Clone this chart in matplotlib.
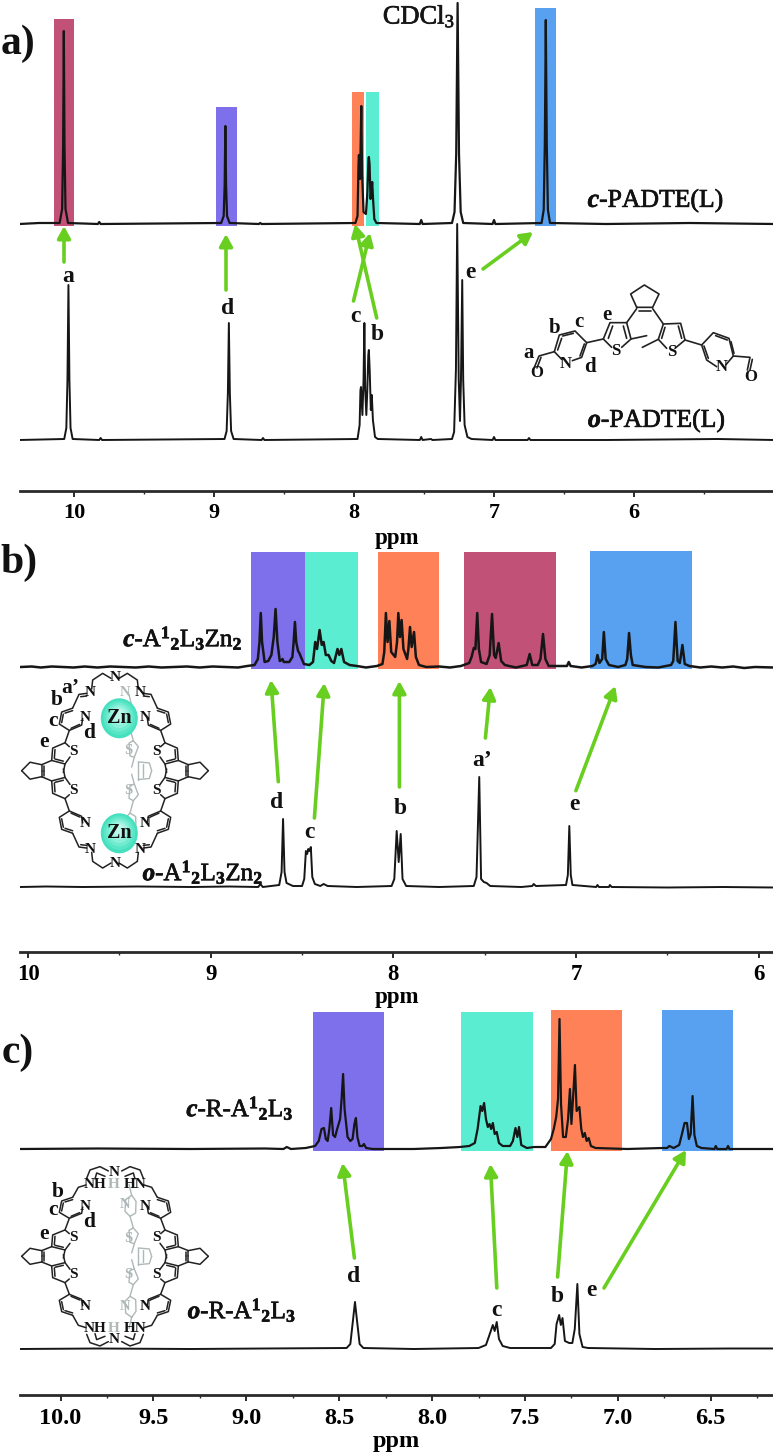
"""
NMR stack: a) PADTE(L), b) A12L3Zn2 cage, c) reduced cage.
Open (o-) and closed (c-) forms with coloured peak regions.
"""

import matplotlib
matplotlib.use('Agg')
import matplotlib.pyplot as plt
import matplotlib.patheffects as pe
from matplotlib.patches import Ellipse
from matplotlib.ticker import MultipleLocator, FuncFormatter

plt.rcParams['font.family'] = ['Liberation Serif', 'DejaVu Serif']
plt.rcParams['mathtext.fontset'] = 'custom'
plt.rcParams['mathtext.rm'] = 'Liberation Serif'
plt.rcParams['mathtext.it'] = 'Liberation Serif:italic:bold'
plt.rcParams['mathtext.bf'] = 'Liberation Serif:bold'

W, H = 773, 1455
INK = '#161616'
GREEN = '#68CF20'
GREY = '#AEB8B8'
RED, PURPLE, ORANGE, TEAL, BLUE = '#C25177', '#7E6FEB', '#FF8157', '#5AEDD2', '#58A1F0'

# --- panel a: ppm / intensity (px above each baseline) ---
a_c_ppm = [10.39, 10.25, 10.103, 10.085, 10.078, 10.073, 10.068, 10.061, 10.043, 9.83, 9.82, 9.81,
           8.949, 8.931, 8.924, 8.919, 8.914, 8.907, 8.889, 8.68, 8.67, 8.66,
           7.99, 7.975, 7.968, 7.965, 7.957, 7.948, 7.942, 7.932, 7.915, 7.905, 7.897, 7.894, 7.889,
           7.882, 7.875, 7.87, 7.864, 7.855, 7.84, 7.53, 7.52, 7.51,
           7.30, 7.282, 7.27, 7.26, 7.25, 7.238, 7.22, 7.01, 7.0, 6.99,
           6.66, 6.645, 6.637, 6.63, 6.623, 6.615, 6.60, 6.2, 5.6, 5.0]
a_c_int = [0, 1, 1, 15, 77, 193, 77, 15, 1, 0, 2, 0,
           1, 8, 39, 98, 39, 8, 1, 0, 1, 0,
           1, 8, 60, 69, 45, 118, 50, 12, 10, 30, 64, 67, 60,
           25, 34, 42, 25, 5, 1, 0, 4, 0,
           1, 12, 70, 221, 70, 12, 1, 0, 4, 0,
           1, 14, 80, 204, 80, 14, 1, 0, 1, 0]
a_o_ppm = [10.39, 10.07, 10.055, 10.047, 10.04, 10.033, 10.025, 10.01, 9.82, 9.81, 9.80,
           8.925, 8.91, 8.901, 8.894, 8.887, 8.878, 8.86, 8.66, 8.65, 8.64,
           7.975, 7.96, 7.954, 7.95, 7.94, 7.932, 7.926, 7.92, 7.912, 7.905, 7.898, 7.894, 7.888,
           7.88, 7.873, 7.865, 7.85, 7.83, 7.53, 7.52, 7.51, 7.45, 7.44,
           7.30, 7.285, 7.272, 7.263, 7.252, 7.243, 7.236, 7.227, 7.22, 7.21, 7.19, 7.16,
           7.01, 7.0, 6.99, 6.76, 6.75, 6.74, 6.2, 5.4, 5.0]
a_o_int = [0, 1, 12, 60, 155, 60, 12, 1, 0, 2, 0,
           1, 9, 47, 117, 47, 9, 1, 0, 2, 0,
           1, 15, 50, 53, 25, 60, 117, 50, 25, 50, 85, 90, 70,
           30, 45, 20, 3, 1, 0, 3, 0, 1, 0,
           1, 8, 70, 216, 60, 19, 60, 160, 60, 15, 3, 1,
           0, 3, 0, 0, 2, 0, 0, 1, 0]
a_left = [10.14, 8.989, 8.014, 7.916, 6.707]
a_right = [9.999, 8.834, 7.929, 7.824, 6.56]
a_top = [205, 117, 132, 132, 216]
a_colors = [RED, PURPLE, ORANGE, TEAL, BLUE]

# --- panel b ---
b_c_ppm = [10.04, 9.98, 9.93, 9.87, 9.81, 9.75, 9.69, 9.62, 9.55, 9.48, 9.41, 9.34, 9.27, 9.2, 9.13, 9.06,
           8.99, 8.92, 8.85, 8.80, 8.76, 8.742, 8.733, 8.726, 8.719, 8.705, 8.685, 8.668, 8.655, 8.645,
           8.635, 8.622, 8.612, 8.607, 8.6, 8.57, 8.553, 8.546, 8.539, 8.532, 8.522, 8.515, 8.49, 8.46,
           8.44, 8.428, 8.418, 8.404, 8.392, 8.382, 8.37, 8.355, 8.34, 8.325, 8.306, 8.296, 8.285, 8.27,
           8.24, 8.2, 8.15, 8.09, 8.06, 8.05, 8.041, 8.032, 8.022, 8.012, 7.99, 7.98, 7.973, 7.964, 7.955,
           7.945, 7.925, 7.918, 7.909, 7.9, 7.887, 7.877, 7.86, 7.82, 7.75, 7.69, 7.63, 7.585, 7.572, 7.56,
           7.551, 7.541, 7.532, 7.52, 7.49, 7.473, 7.46, 7.449, 7.44, 7.424, 7.41, 7.39, 7.33, 7.27, 7.254,
           7.24, 7.21, 7.195, 7.181, 7.168, 7.15, 7.05, 7.04, 7.03, 6.97, 6.91, 6.893, 6.883, 6.872, 6.857,
           6.848, 6.838, 6.82, 6.77, 6.73, 6.72, 6.71, 6.70, 6.69, 6.62, 6.55, 6.48, 6.468, 6.456, 6.444,
           6.432, 6.418, 6.405, 6.38, 6.32, 6.26, 6.2, 6.14, 6.08, 6.02, 5.92]
b_c_int = [0, 0.5, -0.5, 0.5, 0, -0.5, 0.5, -0.5, 0.5, 0, -0.5, 0.5, -0.5, 0, 0.5, -0.5,
           0.5, 0, -0.5, 1, 2, 8, 25, 54, 25, 5, 6, 12, 30, 58,
           25, 6, 7, 8, 5, 5, 10, 25, 45, 25, 16, 14, 3, 2,
           5, 25, 18, 37, 22, 25, 12, 12, 6, 4, 18, 12, 18, 5,
           2, 1, -0.5, 1, 3, 15, 54, 25, 46, 15, 10, 25, 54, 30, 47,
           18, 8, 18, 40, 20, 35, 10, 2, 0, 0.5, -0.5, 1, 4, 10, 19,
           18, 54, 18, 5, 3, 12, 53, 12, 9, 24, 6, 2, -0.5, 2, 13,
           2, 2, 8, 33, 8, 1, 1, 5, 1, -0.5, 1, 3, 12, 4, 8,
           35, 8, 2, 0, 2, 8, 34, 12, 2, 0, -0.5, 2, 6, 45, 6,
           4, 22, 3, 1, -0.5, 0.5, -0.5, 0.5, -1, 0, -0.5]
b_o_ppm = [10.04, 9.9, 9.7, 9.4, 9.1, 8.9, 8.74, 8.728, 8.715, 8.625, 8.612, 8.604, 8.596, 8.585, 8.55,
           8.50, 8.488, 8.479, 8.472, 8.466, 8.459, 8.452, 8.444, 8.43, 8.4, 8.382, 8.36, 8.2, 8.01, 7.995,
           7.982, 7.971, 7.96, 7.95, 7.93, 7.75, 7.56, 7.545, 7.53, 7.52, 7.505, 7.49, 7.47, 7.3, 7.24, 7.232,
           7.22, 7.055, 7.045, 7.037, 7.029, 7.02, 6.89, 6.883, 6.875, 6.82, 6.815, 6.805, 6.5, 6.2, 5.92]
b_o_int = [0, 0.5, 0, 0.5, 0, 0.5, 0, 3, 0, 2, 15, 68, 15, 4, 1,
           1, 8, 36, 33, 38, 36, 40, 10, 3, 1, 3, 1, 0, 1, 8,
           56, 25, 53, 8, 1, 0, 1, 10, 110, 8, 5, 4, 1, 0, 1, 3,
           1, 2, 12, 61, 12, 2, 0, 2, 0, 0, 2, 0, -0.5, 0, -0.5]
b_left = [8.777, 8.485, 8.087, 7.614, 6.924]
b_right = [8.485, 8.195, 7.752, 7.110, 6.364]
b_top = [115, 115, 115, 115, 116]
b_colors = [PURPLE, TEAL, ORANGE, RED, BLUE]

# --- panel c ---
c_c_ppm = [10.22, 9.8, 9.3, 8.9, 8.80, 8.782, 8.76, 8.68, 8.63, 8.61, 8.595, 8.582, 8.572, 8.562, 8.553,
           8.543, 8.533, 8.522, 8.511, 8.495, 8.487, 8.479, 8.471, 8.455, 8.44, 8.428, 8.418, 8.41, 8.402,
           8.39, 8.375, 8.367, 8.355, 8.32, 8.1, 7.95, 7.85, 7.8, 7.77, 7.755, 7.739, 7.73, 7.72, 7.71, 7.70,
           7.691, 7.682, 7.673, 7.663, 7.652, 7.64, 7.62, 7.58, 7.565, 7.551, 7.541, 7.532, 7.52, 7.49, 7.45,
           7.39, 7.36, 7.345, 7.332, 7.322, 7.314, 7.306, 7.295, 7.28, 7.268, 7.258, 7.25, 7.24, 7.231, 7.222,
           7.207, 7.197, 7.188, 7.178, 7.168, 7.157, 7.145, 7.12, 6.95, 6.76, 6.735, 6.723, 6.70, 6.67, 6.655,
           6.641, 6.628, 6.618, 6.608, 6.598, 6.588, 6.575, 6.55, 6.48, 6.473, 6.465, 6.415, 6.407, 6.4, 6.3, 6.165]
c_c_int = [0, 0.5, 0, 0.5, 0, 2, 0, 1, 3, 8, 20, 21, 10, 8, 20,
           41, 14, 12, 20, 30, 50, 75, 40, 12, 8, 10, 25, 31, 12,
           3, 3, 5, 1, 0, 0, 1, 2, 3, 6, 20, 43, 38, 46, 30, 22,
           25, 20, 26, 15, 17, 6, 3, 3, 8, 21, 12, 22, 4, 1, 2,
           2, 10, 20, 32, 50, 130, 45, 12, 12, 30, 60, 25, 55, 84, 38,
           42, 20, 12, 16, 8, 11, 3, 1, 0, 1, 1, 3, 1, 4, 15,
           26, 26, 10, 15, 53, 14, 3, 1, 0, 3, 0, 0, 3, 0, 0, 0]
c_o_ppm = [10.22, 9.8, 9.3, 8.9, 8.46, 8.44, 8.425, 8.415, 8.405, 8.39, 8.37, 8.1, 7.75, 7.71, 7.695,
           7.673, 7.663, 7.652, 7.64, 7.62, 7.58, 7.5, 7.36, 7.34, 7.33, 7.316, 7.307, 7.298, 7.285, 7.262,
           7.245, 7.232, 7.218, 7.207, 7.19, 7.16, 6.8, 6.4, 6.165]
c_o_int = [0, 0.5, 0, 0.5, 1, 5, 30, 47, 30, 5, 1, 0, 1, 4, 12,
           24, 18, 27, 10, 3, 1, 1, 1, 5, 25, 34, 24, 31, 8, 6,
           6, 20, 65, 15, 2, 1, 0, 0.5, 0.5]
c_left = [8.641, 7.843, 7.362, 6.761]
c_right = [8.258, 7.457, 6.979, 6.380]
c_top = [137, 137, 139, 139]
c_colors = [PURPLE, TEAL, ORANGE, BLUE]

fig = plt.figure(figsize=(W / 100, H / 100), dpi=100)


def panel(top, bottom, xlim, major, minor, fmt, tick_size, ppm_size, ppm_pad):
    ax = fig.add_axes([20 / W, 1 - bottom / H, 753 / W, (bottom - top) / H])
    ax.set_xlim(*xlim)
    ax.set_ylim(0, bottom - top)
    ax.patch.set_visible(False)
    for s in ['left', 'right', 'top']:
        ax.spines[s].set_visible(False)
    ax.spines['bottom'].set_linewidth(2)
    ax.spines['bottom'].set_color('#2a2a2a')
    ax.set_yticks([])
    ax.xaxis.set_major_locator(MultipleLocator(major))
    ax.xaxis.set_minor_locator(MultipleLocator(minor))
    ax.xaxis.set_major_formatter(FuncFormatter(lambda v, p: format(v, fmt)))
    ax.tick_params(axis='x', which='major', length=4, width=1.4, pad=5, labelsize=tick_size, color='#2a2a2a')
    ax.tick_params(axis='x', which='minor', length=2.5, width=1.0, color='#2a2a2a')
    for t in ax.get_xticklabels():
        t.set_fontweight('bold')
    ax.set_xlabel('ppm', fontsize=ppm_size, fontweight='bold', labelpad=ppm_pad)
    return ax


def regions(ax, base, left, right, top, colors):
    for l, r, t, c in zip(left, right, top, colors):
        ax.bar(l, t + 2, width=r - l, bottom=base - 2, align='edge', color=c, linewidth=0, zorder=1)


ax_a = panel(0, 491, (10.386, 5.007), 1, 0.5, '.0f', 16, 16.5, 3)
regions(ax_a, 267, a_left, a_right, a_top, a_colors)
ax_a.plot(a_c_ppm, [267 + v for v in a_c_int], color=INK, lw=1.6, zorder=3)
ax_a.plot(a_o_ppm, [51 + v for v in a_o_int], color=INK, lw=1.4, zorder=3)

ax_b = panel(540, 952, (10.044, 5.922), 1, 0.5, '.0f', 16.5, 16.5, 1)
regions(ax_b, 285, b_left, b_right, b_top, b_colors)
ax_b.plot(b_c_ppm, [285 + v for v in b_c_int], color=INK, lw=1.8, zorder=3)
ax_b.plot(b_o_ppm, [65 + v for v in b_o_int], color=INK, lw=1.4, zorder=3)

ax_c = panel(1000, 1395, (10.218, 6.165), 0.5, 0.25, '.1f', 17.5, 17.5, 2)
regions(ax_c, 246, c_left, c_right, c_top, c_colors)
ax_c.plot(c_c_ppm, [246 + v for v in c_c_int], color=INK, lw=1.6, zorder=3)
ax_c.plot(c_o_ppm, [46 + v for v in c_o_int], color=INK, lw=1.4, zorder=3)

# overlay in picture pixels, for labels, arrows and the drawn structures
ov = fig.add_axes([0, 0, 1, 1], zorder=5)
ov.set_xlim(0, W)
ov.set_ylim(H, 0)
ov.axis('off')


def label(x, y, s, size=17, weight='bold', color='#111111', ha='center', zorder=8):
    t = ov.text(x, y, s, fontsize=size, fontweight=weight, color=color, ha=ha, va='center', zorder=zorder)
    if weight == 'normal':
        # the original type is heavier than plain Liberation Serif
        t.set_path_effects([pe.withStroke(linewidth=0.5, foreground=color)])


def arrow(x0, y0, x1, y1):
    ov.annotate('', xy=(x1, y1), xytext=(x0, y0),
                arrowprops=dict(arrowstyle='-|>,head_length=0.55,head_width=0.3', color=GREEN, lw=2.6,
                                shrinkA=0, shrinkB=0, mutation_scale=13))


# panel letters
label(18, 44, 'a)', 30)
label(19, 563, 'b)', 30)
label(18, 1053, 'c)', 30)

# panel a texts and arrows
label(419, 17, 'CDCl$_{3}$', 19, 'normal', '#151515')
label(656, 201, r'$\mathit{c}$-PADTE(L)', 18.5, 'normal', ha='center')
label(657, 421, r'$\mathit{o}$-PADTE(L)', 18.5, 'normal', ha='center')
for x, y, s in [(68, 276, 'a'), (228, 308, 'd'), (355, 316, 'c'), (377, 335, 'b'), (470, 273, 'e')]:
    label(x, y, s)
arrow(64, 262, 64, 226)
arrow(226, 290, 226, 234)
arrow(353.5, 301, 370, 233)
arrow(376.7, 318, 355, 224)
arrow(483, 269, 533, 232)

# panel b texts and arrows
label(183, 638, r'$\mathit{c}$-A$^{\mathbf{1}}{}_{\mathbf{2}}$L$_{\mathbf{3}}$Zn$_{\mathbf{2}}$', 18, 'normal')
label(203, 872, r'$\mathit{o}$-A$^{\mathbf{1}}{}_{\mathbf{2}}$L$_{\mathbf{3}}$Zn$_{\mathbf{2}}$', 18, 'normal')
for x, y, s in [(277, 803, 'd'), (309, 832, 'c'), (400, 808, 'b'), (482, 760, 'a\u2019'), (574, 805, 'e')]:
    label(x, y, s)
arrow(278.3, 781.7, 271, 680)
arrow(314.4, 818, 324.3, 683)
arrow(399.4, 787, 399.4, 681)
arrow(485.4, 738, 490.4, 687)
arrow(575.9, 790.7, 615.4, 686)

# panel c texts and arrows
label(240, 1108, r'$\mathit{c}$-R-A$^{\mathbf{1}}{}_{\mathbf{2}}$L$_{\mathbf{3}}$', 18, 'normal')
label(242, 1310, r'$\mathit{o}$-R-A$^{\mathbf{1}}{}_{\mathbf{2}}$L$_{\mathbf{3}}$', 18, 'normal')
for x, y, s in [(354, 1277, 'd'), (496, 1310, 'c'), (557, 1297, 'b'), (591, 1290, 'e')]:
    label(x, y, s)
arrow(354.4, 1258, 342.6, 1163)
arrow(496.8, 1288, 490.4, 1164)
arrow(557.6, 1277, 567.5, 1151)
arrow(604, 1288, 686, 1150)


# --- structures, coordinates in 3x crop units ---
def bonds(chains, x0, y0, color='#222222', lw=1.1, mx=1, my=1, sy=1.0, zorder=6):
    for chain in chains:
        ov.plot([x0 + mx * p[0] / 3 for p in chain], [y0 + my * sy * p[1] / 3 for p in chain],
                color=color, lw=lw, solid_capstyle='round', zorder=zorder)


ligand = [
    [(365, 112), (347, 72), (388, 45), (432, 72), (413, 112), (365, 112)],
    [(372, 123), (408, 123)],
    [(365, 116), (335, 158)], [(413, 116), (445, 162)],
    [(290, 232), (265, 207), (285, 158), (335, 158), (348, 207), (320, 232)],
    [(280, 205), (293, 168)], [(325, 168), (335, 205)], [(348, 207), (395, 197)],
    [(265, 207), (215, 218)],
    [(172, 272), (200, 262), (215, 218), (180, 183), (133, 195), (118, 245), (140, 268)],
    [(140, 205), (128, 240)], [(143, 198), (175, 190)], [(208, 222), (195, 258)],
    [(118, 245), (72, 258), (58, 292)], [(78, 262), (66, 294)],
    [(455, 235), (430, 208), (445, 162), (497, 160), (510, 210), (480, 235)],
    [(450, 172), (440, 205)], [(490, 168), (500, 205)], [(430, 208), (382, 232)],
    [(510, 210), (560, 225)],
    [(605, 290), (575, 270), (560, 225), (595, 188), (642, 205), (655, 258), (632, 285)],
    [(602, 197), (637, 210)], [(648, 215), (657, 250)], [(567, 228), (580, 265)],
    [(655, 258), (705, 262), (697, 300)], [(712, 268), (705, 300)],
]
bonds(ligand, 515, 270, lw=1.2)
for x, y, s in [(42, 250, 'a'), (118, 175, 'b'), (192, 155, 'c'), (225, 290, 'd'), (277, 135, 'e')]:
    label(515 + x / 3, 270 + y / 3, s, 15)
for x, y, s in [(152, 283, 'N'), (65, 310, 'O'), (303, 243, 'S'), (470, 247, 'S'), (620, 290, 'N'), (707, 320, 'O')]:
    label(515 + x / 3, 270 + y / 3, s, 12)

arm = [
    [(-127, -177), (-160, -166), (-167, -132), (-137, -114), (-100, -129), (-97, -148)],
    [(-155, -160), (-160, -136)], [(-132, -120), (-106, -131)], [(-127, -170), (-150, -163)],
    [(-137, -114), (-150, -79)],
    [(-137, -68), (-150, -79), (-187, -64), (-190, -29), (-150, -19), (-135, -39)],
    [(-180, -60), (-182, -35)], [(-155, -27), (-180, -33)], [(-150, -19), (-155, 5)],
    [(-190, -29), (-220, -17)], [(-220, -17), (-255, -24), (-280, 0)],
    [(-220, -17), (-220, 0)], [(-212, -14), (-212, 0)],
]
back = [
    [(55, -85), (42, -78), (45, -42), (58, -38), (70, -68), (55, -85)],
    [(45, -120), (55, -85)], [(58, -38), (50, -10)],
    [(50, -183), (32, -170), (30, -135), (45, -120), (62, -130), (63, -165), (50, -183)],
    [(50, -183), (42, -216)],
    [(70, -25), (103, -22), (110, 0)], [(70, -25), (70, 0)], [(84, -18), (84, 0)],
]
cap_zn = [
    [(-127, -188), (-108, -229), (-85, -232)], [(-103, -222), (-85, -224)],
    [(-70, -245), (-67, -272), (-37, -292), (-12, -277)],
]
cap_nh = [
    [(-127, -177), (-110, -207), (-87, -214)],
    [(-85, -234), (-75, -259), (-45, -269), (-20, -256)],
    [(-60, -232), (-55, -250), (-30, -240)],
]


def cage(cx, cy, sy, cap):
    for my in (1, -1):
        bonds(back, cx, cy, GREY, 1.0, 1, my, sy, zorder=5)
        for mx in (1, -1):
            bonds(arm, cx, cy, mx=mx, my=my, sy=sy)
            bonds(cap, cx, cy, mx=mx, my=my)
            label(cx + mx * 90 / 3, cy + my * sy * 150 / 3, 'N', 11)
            label(cx + mx * 125 / 3, cy + my * sy * 55 / 3, 'S', 11)


# panel b cage
cage(115, 770.7, 1.06, cap_zn)
for my in (1, -1):
    label(115, 770.7 + my * 279 / 3, 'N', 11)
    for mx in (1, -1):
        label(115 + mx * 75 / 3, 770.7 + my * 235 / 3, 'N', 11)
label(125, 692, 'N', 10.5, color=GREY, zorder=6)
label(128, 751, 'S', 10.5, color=GREY, zorder=6)
label(128, 791, 'S', 10.5, color=GREY, zorder=6)
for yc in (718.3, 833.3):
    for i, shade in enumerate(['#45E0BD', '#58E6C6', '#70EBCF', '#8AF0D9', '#A5F4E3', '#BDF8EB']):
        f = 1 - i * 0.14
        ov.add_patch(Ellipse((119.3, yc - i * 0.6), 37 * f, 40 * f, facecolor=shade, edgecolor='none', zorder=7))
    label(119.3, yc, 'Zn', 14.5)
for x, y, s in [(182, 70, 'a\u2019'), (140, 105, 'b'), (128, 168, 'c'), (238, 205, 'd'), (103, 230, 'e')]:
    label(10 + x / 3, 665 + y / 3, s, 15.5)

# panel c cage
cage(115, 1256.3, 1.0, cap_nh)
for my in (1, -1):
    label(114, 1256.3 + my * 251 / 3, 'N', 11)
    label(95, 1256.3 + my * 72, 'NH', 11)
    label(135, 1256.3 + my * 72, 'HN', 11)
    label(114, 1256.3 + my * 72, 'H', 11, color=GREY)
label(125, 1205, 'N', 10.5, color=GREY)
label(125, 1307, 'N', 10.5, color=GREY)
label(128, 1238, 'S', 10.5, color=GREY)
label(128, 1274, 'S', 10.5, color=GREY)
for x, y, s in [(142, 112, 'b'), (128, 165, 'c'), (238, 200, 'd'), (103, 237, 'e')]:
    label(10 + x / 3, 1155 + y / 3, s, 15.5)

fig.savefig('out.png', dpi=100)
